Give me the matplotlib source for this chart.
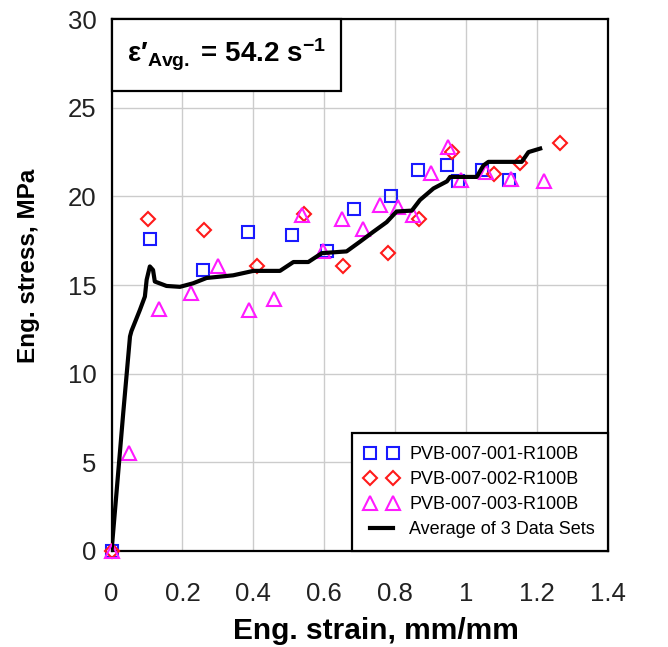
import numpy as np
import matplotlib.pyplot as plt
from matplotlib.patches import Rectangle

plt.rcParams['font.family'] = ['Liberation Sans', 'DejaVu Sans']
plt.rcParams['mathtext.fontset'] = 'custom'
plt.rcParams['mathtext.rm'] = 'Liberation Sans'
plt.rcParams['mathtext.bf'] = 'Liberation Sans:bold'
plt.rcParams['mathtext.it'] = 'Liberation Sans:italic'

# data
strain_001 = [0.0, 0.108, 0.257, 0.386, 0.51, 0.609, 0.684, 0.787, 0.863, 0.947, 0.977, 1.046, 1.122]
stress_001 = [0.0, 17.6, 15.85, 18.0, 17.8, 16.9, 19.3, 20.0, 21.5, 21.8, 20.85, 21.5, 20.95]

strain_002 = [0.0, 0.102, 0.262, 0.409, 0.544, 0.654, 0.781, 0.868, 0.96, 1.079, 1.152, 1.265]
stress_002 = [0.0, 18.7, 18.1, 16.05, 19.0, 16.05, 16.8, 18.75, 22.5, 21.25, 21.9, 23.0]

strain_003 = [0.0, 0.049, 0.134, 0.223, 0.301, 0.388, 0.459, 0.536, 0.596, 0.651, 0.71, 0.757,
              0.807, 0.851, 0.901, 0.95, 0.986, 1.056, 1.127, 1.22]
stress_003 = [0.0, 5.55, 13.65, 14.55, 16.05, 13.6, 14.2, 18.95, 16.9, 18.75, 18.15, 19.5,
              19.4, 18.95, 21.3, 22.8, 20.95, 21.4, 21.0, 20.85]

strain_avg = [0.0, 0.014, 0.033, 0.052, 0.056, 0.08, 0.094, 0.099, 0.108, 0.117, 0.122, 0.155,
              0.193, 0.23, 0.268, 0.343, 0.4, 0.475, 0.513, 0.555, 0.593, 0.663, 0.701, 0.738,
              0.776, 0.804, 0.847, 0.87, 0.908, 0.946, 0.955, 1.03, 1.049, 1.063, 1.157, 1.176, 1.209]
stress_avg = [0.0, 3.3, 7.8, 12.1, 12.4, 13.6, 14.35, 15.3, 16.05, 15.85, 15.2, 14.95,
              14.9, 15.1, 15.4, 15.55, 15.8, 15.8, 16.3, 16.3, 16.8, 16.9, 17.45, 18.0,
              18.55, 19.15, 19.2, 19.8, 20.45, 20.85, 21.1, 21.1, 21.75, 21.95, 21.95, 22.5, 22.7]

labels = ['PVB-007-001-R100B', 'PVB-007-002-R100B', 'PVB-007-003-R100B', 'Average of 3 Data Sets']
x_ticks = [0, 0.2, 0.4, 0.6, 0.8, 1.0, 1.2, 1.4]
x_ticklabels = ['0', '0.2', '0.4', '0.6', '0.8', '1', '1.2', '1.4']
y_ticks = [0, 5, 10, 15, 20, 25, 30]

fig = plt.figure(figsize=(6.68, 6.47), dpi=100)
ax = fig.add_axes([0.167, 0.1484, 0.743, 0.822])

ax.plot(strain_001, stress_001, ls='none', marker='s', ms=9, mfc='none', mec='#1a1aff',
        mew=1.5, clip_on=False, zorder=3, label=labels[0])
ax.plot(strain_002, stress_002, ls='none', marker='D', ms=7, mfc='none', mec='#ff1a1a',
        mew=1.5, clip_on=False, zorder=3, label=labels[1])
ax.plot(strain_003, stress_003, ls='none', marker='^', ms=10, mfc='none', mec='#ff1aff',
        mew=1.5, clip_on=False, zorder=3, label=labels[2])
ax.plot(strain_avg, stress_avg, color='black', lw=3.0, zorder=4, label=labels[3])

ax.set_xlim(0, 1.4)
ax.set_ylim(0, 30)
ax.set_xticks(x_ticks)
ax.set_xticklabels(x_ticklabels)
ax.set_yticks(y_ticks)
ax.tick_params(length=0, labelsize=18.5, colors='#222222')
ax.tick_params(axis='x', pad=22)
ax.tick_params(axis='y', pad=11)
ax.grid(True, color='#cccccc', lw=1.0)
ax.set_axisbelow(True)
for s in ax.spines.values():
    s.set_linewidth(1.6)

ax.set_xlabel('Eng. strain, mm/mm', fontsize=21.5, fontweight='bold')
ax.set_ylabel('Eng. stress, MPa', fontsize=17.5, fontweight='bold')
ax.xaxis.set_label_coords(0.533, -0.125)
ax.yaxis.set_label_coords(-0.145, 0.536)

leg = ax.legend(loc='lower right', bbox_to_anchor=(1.0, 0.0), borderaxespad=0, numpoints=2,
                fontsize=13, fancybox=False, framealpha=1, edgecolor='black',
                handlelength=1.9, handletextpad=0.6, labelspacing=0.45, borderpad=0.7)
leg.get_frame().set_linewidth(1.6)

box = Rectangle((0, 0.865), 0.462, 0.135, transform=ax.transAxes, facecolor='white',
                edgecolor='black', lw=1.6, clip_on=False, zorder=5)
ax.add_patch(box)
ax.text(0.231, 0.932, r'$\mathbf{ε′_{Avg.}}$ = 54.2 s$^{\mathbf{-1}}$', transform=ax.transAxes,
        ha='center', va='center', fontsize=20, fontweight='bold', zorder=6)

fig.savefig('out.png', dpi=100)
